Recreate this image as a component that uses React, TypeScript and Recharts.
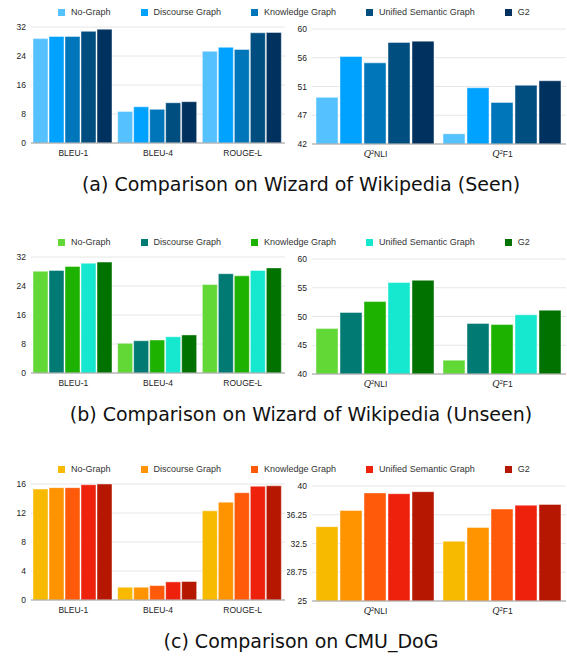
import { Bar, BarChart, CartesianGrid, XAxis, YAxis } from "recharts";

const SERIES = ["No-Graph", "Discourse Graph", "Knowledge Graph", "Unified Semantic Graph", "G2"];
const OVERLAP_METRICS = ["BLEU-1", "BLEU-4", "ROUGE-L"];
const FAITH_METRICS = ["Q²NLI", "Q²F1"];

// values follow OVERLAP_METRICS then FAITH_METRICS
const SEEN_NO_GRAPH = [28.8, 8.7, 25.3, 49.3, 43.6];
const SEEN_DISCOURSE = [29.4, 10.0, 26.4, 55.7, 50.8];
const SEEN_KNOWLEDGE = [29.4, 9.3, 25.8, 54.7, 48.5];
const SEEN_UNIFIED = [30.8, 11.1, 30.4, 57.9, 51.2];
const SEEN_G2 = [31.4, 11.4, 30.5, 58.1, 51.9];

const UNSEEN_NO_GRAPH = [28.1, 8.2, 24.4, 47.9, 42.4];
const UNSEEN_DISCOURSE = [28.3, 8.9, 27.4, 50.7, 48.8];
const UNSEEN_KNOWLEDGE = [29.4, 9.1, 26.8, 52.6, 48.6];
const UNSEEN_UNIFIED = [30.3, 10.0, 28.3, 55.9, 50.3];
const UNSEEN_G2 = [30.6, 10.5, 29.0, 56.3, 51.1];

const CMU_NO_GRAPH = [15.3, 1.76, 12.3, 34.7, 32.8];
const CMU_DISCOURSE = [15.5, 1.76, 13.5, 36.8, 34.6];
const CMU_KNOWLEDGE = [15.5, 1.99, 14.8, 39.1, 37.0];
const CMU_UNIFIED = [15.9, 2.5, 15.7, 39.0, 37.5];
const CMU_G2 = [16.0, 2.55, 15.75, 39.26, 37.6];

const SEEN_LEFT_TICKS = [0, 8, 16, 24, 32];
const SEEN_RIGHT_TICKS = [42, 46.5, 51, 55.5, 60];
const UNSEEN_LEFT_TICKS = [0, 8, 16, 24, 32];
const UNSEEN_RIGHT_TICKS = [40, 45, 50, 55, 60];
const CMU_LEFT_TICKS = [0, 4, 8, 12, 16];
const CMU_RIGHT_TICKS = [25, 28.75, 32.5, 36.25, 40];

const BLUES = ["#56C1FF", "#00A2FF", "#0076BA", "#004D80", "#01315F"];
const GREENS = ["#61D836", "#007A72", "#1DB100", "#16E7CF", "#017100"];
const REDS = ["#F8BA00", "#FF9300", "#FF5A0A", "#EE220C", "#B51700"];

const FONT = "'Liberation Sans', Arial, sans-serif";
const TEXT_COLOR = "#222";

type Row = {
  caption: string;
  top: number;
  values: number[][];
  colors: string[];
  leftTicks: number[];
  rightTicks: number[];
  roundRight: boolean;
};

const ROWS: Row[] = [
  {
    caption: "(a) Comparison on Wizard of Wikipedia (Seen)",
    top: 0,
    values: [SEEN_NO_GRAPH, SEEN_DISCOURSE, SEEN_KNOWLEDGE, SEEN_UNIFIED, SEEN_G2],
    colors: BLUES,
    leftTicks: SEEN_LEFT_TICKS,
    rightTicks: SEEN_RIGHT_TICKS,
    roundRight: true,
  },
  {
    caption: "(b) Comparison on Wizard of Wikipedia (Unseen)",
    top: 230,
    values: [UNSEEN_NO_GRAPH, UNSEEN_DISCOURSE, UNSEEN_KNOWLEDGE, UNSEEN_UNIFIED, UNSEEN_G2],
    colors: GREENS,
    leftTicks: UNSEEN_LEFT_TICKS,
    rightTicks: UNSEEN_RIGHT_TICKS,
    roundRight: false,
  },
  {
    caption: "(c) Comparison on CMU_DoG",
    top: 457,
    values: [CMU_NO_GRAPH, CMU_DISCOURSE, CMU_KNOWLEDGE, CMU_UNIFIED, CMU_G2],
    colors: REDS,
    leftTicks: CMU_LEFT_TICKS,
    rightTicks: CMU_RIGHT_TICKS,
    roundRight: false,
  },
];

function buildTable(metrics: string[], offset: number, values: number[][]) {
  return metrics.map((metric, i) => {
    const row: Record<string, string | number> = { metric };
    values.forEach((series, s) => {
      row[`s${s}`] = series[offset + i];
    });
    return row;
  });
}

// Q² labels: italic Q with a small superscript 2
function MetricTick(props: any) {
  const { x, y, payload } = props;
  const label = String(payload?.value ?? "");
  if (label.startsWith("Q²")) {
    return (
      <text x={x} y={y + 6} textAnchor="middle" fontSize={8.5} fontFamily={FONT} fill={TEXT_COLOR}>
        <tspan fontFamily="'DejaVu Serif', serif" fontStyle="italic" fontSize={9}>Q</tspan>
        <tspan fontSize={5.5} dy={-3.5}>2</tspan>
        <tspan dy={3.5}>{label.slice(2)}</tspan>
      </text>
    );
  }
  return (
    <text x={x} y={y + 6} textAnchor="middle" fontSize={8.5} fontFamily={FONT} fill={TEXT_COLOR}>
      {label}
    </text>
  );
}

type PanelProps = {
  data: Record<string, string | number>[];
  colors: string[];
  ticks: number[];
  width: number;
  yWidth: number;
  margin: { top: number; right: number; bottom: number; left: number };
  catGap: number;
  barGap: number;
  round?: boolean;
};

function Panel({ data, colors, ticks, width, yWidth, margin, catGap, barGap, round }: PanelProps) {
  return (
    <BarChart
      width={width}
      height={170}
      data={data}
      margin={margin}
      barCategoryGap={catGap}
      barGap={barGap}
    >
      <CartesianGrid vertical={false} stroke="#e6e6e6" />
      <XAxis
        dataKey="metric"
        interval={0}
        height={20}
        tickLine={false}
        tickSize={4}
        tickMargin={3}
        axisLine={{ stroke: "#a0a0a0" }}
        tick={<MetricTick />}
      />
      <YAxis
        type="number"
        domain={[ticks[0], ticks[ticks.length - 1]]}
        ticks={ticks}
        width={yWidth}
        tickLine={false}
        axisLine={false}
        tickSize={3}
        tickMargin={2}
        tick={{ fontSize: 8.5, fill: TEXT_COLOR, fontFamily: FONT }}
        tickFormatter={(v: number) => (round ? String(Math.round(v)) : String(v))}
        allowDataOverflow
      />
      {SERIES.map((name, i) => (
        <Bar
          key={name}
          dataKey={`s${i}`}
          name={name}
          fill={colors[i]}
          stroke="rgba(255,255,255,0.45)"
          strokeWidth={1}
          isAnimationActive={false}
        />
      ))}
    </BarChart>
  );
}

function Legend({ colors }: { colors: string[] }) {
  return (
    <div style={{ display: "flex", alignItems: "center", gap: 30, fontFamily: FONT, fontSize: 9, color: "#333" }}>
      {SERIES.map((name, i) => (
        <div key={name} style={{ display: "flex", alignItems: "center" }}>
          <span style={{ display: "inline-block", width: 7, height: 7, background: colors[i], marginRight: 6 }} />
          <span>{name}</span>
        </div>
      ))}
    </div>
  );
}

export default function App() {
  return (
    <div style={{ position: "absolute", left: 0, top: 0, width: 567, height: 657, background: "#fff", overflow: "hidden" }}>
      {ROWS.map((row) => (
        <div key={row.caption}>
          <div style={{ position: "absolute", left: 58, top: row.top + 7, height: 10 }}>
            <Legend colors={row.colors} />
          </div>
          <div style={{ position: "absolute", left: 0, top: row.top }}>
            <Panel
              data={buildTable(OVERLAP_METRICS, 0, row.values)}
              colors={row.colors}
              ticks={row.leftTicks}
              width={290}
              yWidth={31}
              margin={{ top: 27, right: 5, bottom: 7, left: 0 }}
              catGap={2}
              barGap={1}
            />
          </div>
          <div style={{ position: "absolute", left: 287, top: row.top }}>
            <Panel
              data={buildTable(FAITH_METRICS, OVERLAP_METRICS.length, row.values)}
              colors={row.colors}
              ticks={row.rightTicks}
              width={280}
              yWidth={25}
              margin={{ top: 29, right: 1, bottom: 6, left: 0 }}
              catGap={4}
              barGap={2}
              round={row.roundRight}
            />
          </div>
          <div
            style={{
              position: "absolute",
              left: 0,
              width: 602,
              top: row.top + 172,
              lineHeight: "24px",
              textAlign: "center",
              fontFamily: "'DejaVu Sans', sans-serif",
              fontSize: 19,
              color: "#111",
              whiteSpace: "nowrap",
            }}
          >
            {row.caption}
          </div>
        </div>
      ))}
    </div>
  );
}
